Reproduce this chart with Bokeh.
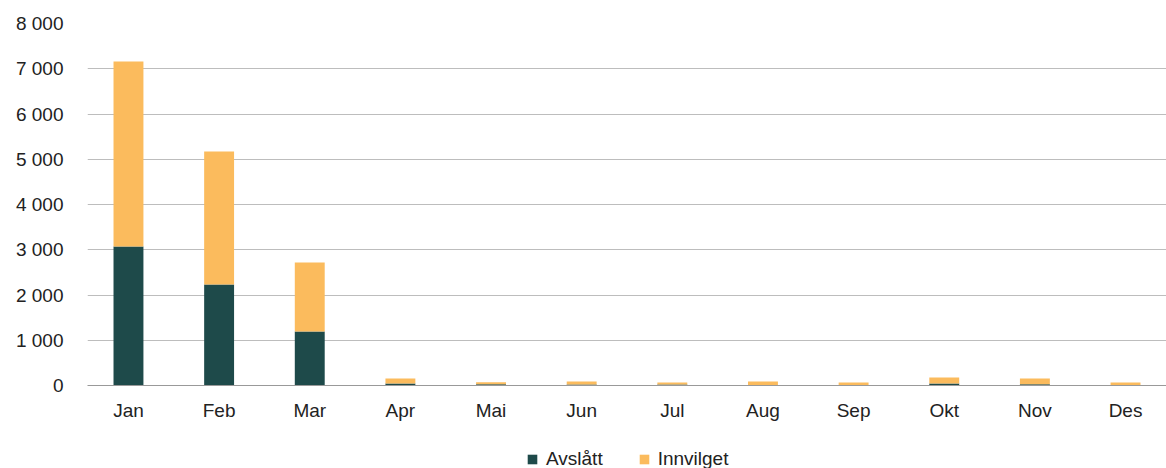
from bokeh.plotting import figure
from bokeh.models import ColumnDataSource, FactorRange, FixedTicker, Legend, Range1d
from bokeh.layouts import column
from bokeh.embed import file_html
from bokeh.resources import INLINE

months = ["Jan", "Feb", "Mar", "Apr", "Mai", "Jun", "Jul", "Aug", "Sep", "Okt", "Nov", "Des"]
avslatt = [3070, 2230, 1195, 45, 25, 20, 20, 5, 10, 45, 25, 5]
innvilget = [4090, 2940, 1525, 110, 45, 70, 45, 85, 55, 130, 130, 60]
series_names = ["Avslått", "Innvilget"]
series_colors = ["#1e4a4a", "#fbbb5d"]
y_ticks = [0, 1000, 2000, 3000, 4000, 5000, 6000, 7000, 8000]
y_tick_labels = ["0", "1 000", "2 000", "3 000", "4 000", "5 000", "6 000", "7 000", "8 000"]

FONT = "Liberation Sans"
FS = "19px"

source = ColumnDataSource(dict(month=months, Avslatt=avslatt, Innvilget=innvilget))
stackers = ["Avslatt", "Innvilget"]
x_range = FactorRange(factors=months, range_padding=-0.008)

p = figure(
    x_range=x_range,
    y_range=(0, 8000),
    width=1166, height=430,
    output_backend="svg", toolbar_location=None,
    min_border_left=87, min_border_right=0, min_border_top=23, min_border_bottom=45,
)

p.vbar_stack(stackers, x="month", width=0.33,
             color=series_colors, line_color=None, source=source)

p.outline_line_color = None
p.xgrid.grid_line_color = None
p.ygrid.grid_line_color = "#bdbdbd"
p.ygrid.grid_line_width = 1

p.yaxis.ticker = FixedTicker(ticks=y_ticks)
p.yaxis.major_label_overrides = {t: l for t, l in zip(y_ticks, y_tick_labels)}
p.yaxis.axis_line_color = None
p.yaxis.major_tick_line_color = None
p.yaxis.minor_tick_line_color = None
p.yaxis.major_label_standoff = 18
p.yaxis.major_label_text_font = FONT
p.yaxis.major_label_text_font_size = FS
p.yaxis.major_label_text_color = "#222222"

p.xaxis.axis_line_color = "#999999"
p.xaxis.axis_line_width = 1
p.xaxis.major_tick_line_color = None
p.xaxis.minor_tick_line_color = None
p.xaxis.major_label_standoff = 8
p.xaxis.major_label_text_font = FONT
p.xaxis.major_label_text_font_size = FS
p.xaxis.major_label_text_color = "#222222"

# legend strip below the chart; its renderers are hidden and only lend their swatches
lp = figure(
    width=1166, height=38, x_range=x_range, y_range=Range1d(-200000, -199990),
    output_backend="svg", toolbar_location=None,
    min_border=0, min_border_left=0, min_border_right=0, min_border_top=0, min_border_bottom=0,
)
lp.axis.visible = False
lp.grid.visible = False
lp.outline_line_color = None
swatches = lp.vbar_stack(stackers, x="month", width=0.33,
                         color=series_colors, line_color=None, source=source)
for r in swatches:
    r.visible = False

legend = Legend(
    items=[(n, [r]) for n, r in zip(series_names, swatches)],
    orientation="horizontal", location=(439, -2),
    glyph_width=12, glyph_height=12, label_standoff=8, spacing=35, label_height=20,
    label_text_font=FONT, label_text_font_size=FS, label_text_color="#222222",
    border_line_color=None, background_fill_alpha=0,
    inactive_fill_alpha=0,
    margin=0, padding=0,
)
lp.add_layout(legend, "center")

layout = column(p, lp, spacing=0)
open("out.html", "w").write(file_html(layout, INLINE))
